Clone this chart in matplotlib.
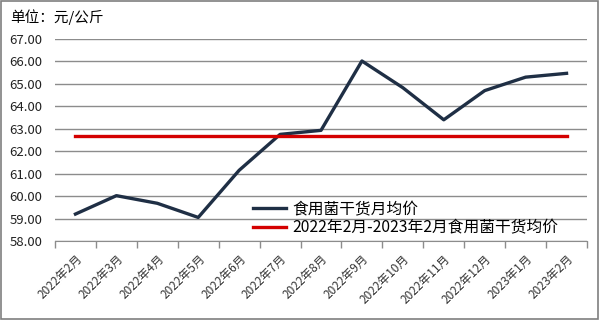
import matplotlib
matplotlib.use("Agg")
import matplotlib.pyplot as plt
import numpy as np

plt.rcParams['font.family'] = ['Noto Sans CJK SC', 'DejaVu Sans']

months = ["2022年2月", "2022年3月", "2022年4月", "2022年5月", "2022年6月",
          "2022年7月", "2022年8月", "2022年9月", "2022年10月", "2022年11月",
          "2022年12月", "2023年1月", "2023年2月"]
monthly_price = [59.20, 60.02, 59.68, 59.05, 61.15, 62.75, 62.93,
                 66.02, 64.83, 63.40, 64.70, 65.30, 65.47]
avg_price = [62.66] * len(months)

navy = "#1f2f45"
red = "#d40000"
grid_gray = "#8c8c8c"

fig = plt.figure(figsize=(6, 3.2), dpi=100)
ax = fig.add_axes([55 / 600, 1 - 241 / 320, 532 / 600, 202 / 320])

x = np.arange(len(months))
ax.plot(x, monthly_price, color=navy, lw=2.4, label="食用菌干货月均价")
ax.plot(x, avg_price, color=red, lw=2.4, label="2022年2月-2023年2月食用菌干货均价")

ax.set_xlim(-0.5, len(months) - 0.5)
ax.set_ylim(58, 67)
ax.set_yticks(np.arange(58, 67.5, 1))
ax.yaxis.set_major_formatter(matplotlib.ticker.FormatStrFormatter("%.2f"))
ax.tick_params(axis="y", length=0, pad=9, labelsize=9.5, labelcolor="#222222")
ax.grid(axis="y", color=grid_gray, lw=1)
ax.set_axisbelow(True)

ax.set_xticks(x)
ax.set_xticklabels(months, rotation=45, ha="right", rotation_mode="anchor",
                   fontsize=8.5, color="#333333")
ax.tick_params(axis="x", which="major", length=0, pad=8)
ax.set_xticks(np.arange(-0.5, len(months)), minor=True)
ax.tick_params(axis="x", which="minor", length=5, color=grid_gray, width=1)

for s in ["left", "right", "top"]:
    ax.spines[s].set_visible(False)
ax.spines["bottom"].set_color(grid_gray)

ax.legend(loc="lower left", bbox_to_anchor=(0.36, -0.01), frameon=False,
          fontsize=11.3, handlelength=2.1, handletextpad=0.4,
          borderaxespad=0.0, labelspacing=0.12)

fig.text(10 / 600, 1 - 17 / 320, "单位：元/公斤", fontsize=10.5, va="center", ha="left")

border = plt.Rectangle((0.002, 0.003), 0.995, 0.993, transform=fig.transFigure,
                       fill=False, edgecolor="#7f7f7f", lw=1.2)
fig.patches.append(border)

fig.savefig("out.png", dpi=100)
